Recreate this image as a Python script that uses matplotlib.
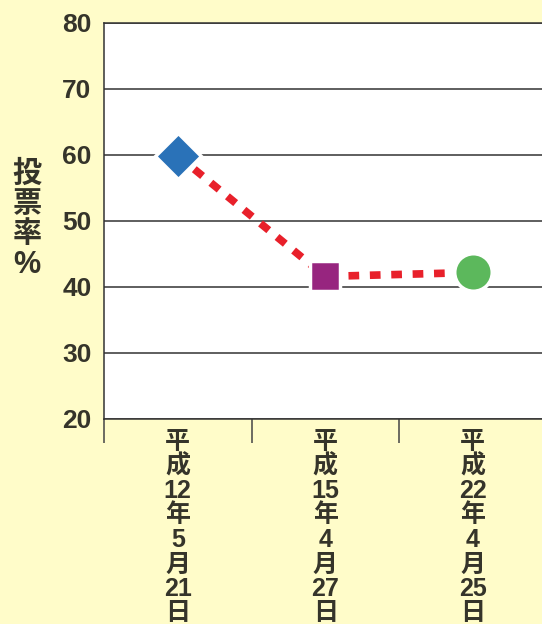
import matplotlib
matplotlib.use("Agg")
import matplotlib.pyplot as plt

# Data
categories = ["平成12年5月21日", "平成15年4月27日", "平成22年4月25日"]
label_rows = [["平", "成", "12", "年", "5", "月", "21", "日"],
              ["平", "成", "15", "年", "4", "月", "27", "日"],
              ["平", "成", "22", "年", "4", "月", "25", "日"]]
turnout = [59.9, 41.6, 42.2]
y_ticks = [20, 30, 40, 50, 60, 70, 80]
ylabel_chars = ["投", "票", "率", "%"]

FONT = ["Liberation Sans", "Noto Sans CJK JP", "DejaVu Sans"]
TXT = "#35342a"
BG = "#fffcc9"

fig = plt.figure(figsize=(5.42, 6.24), dpi=100, facecolor=BG)
ax = fig.add_axes([104/542, 205/624, 442.5/542, 396/624])
ax.set_facecolor("white")

x = [0.5, 1.5, 2.5]
ax.plot(x, turnout, color="#e8202a", lw=5.5, ls=(0, (1.4, 1.4)), zorder=3,
        solid_capstyle="butt", dash_capstyle="butt")
markers = ["D", "s", "o"]
colors = ["#2a72b8", "#97257f", "#5cb85c"]
sizes = [23, 22, 27]
for xi, yi, m, c, s in zip(x, turnout, markers, colors, sizes):
    ax.plot([xi], [yi], marker=m, color=c, ms=s, mec="white", mew=2.5,
            zorder=4, ls="none")

ax.set_xlim(0, 3)
ax.set_ylim(20, 80)
ax.set_yticks(y_ticks)
ax.set_yticklabels([str(t) for t in y_ticks], fontsize=19, fontweight="bold",
                   color=TXT, family=FONT)
ax.tick_params(axis="y", length=0, pad=9)
ax.grid(axis="y", color="#333333", lw=1.1)
ax.set_axisbelow(True)
ax.set_xticks([0, 1, 2, 3])
ax.set_xticklabels([])
ax.tick_params(axis="x", length=17, width=1.1, color="#444444", direction="out")
for sp in ["left", "bottom", "top"]:
    ax.spines[sp].set_color("#333333")
    ax.spines[sp].set_linewidth(1.1)
ax.spines["right"].set_visible(False)

# x labels stacked vertically
for xi, rows in zip(x, label_rows):
    for i, r in enumerate(rows):
        ax.annotate(r, xy=(xi, 0), xycoords=("data", "axes fraction"),
                    xytext=(0, -11 - 24.5 * i), textcoords="offset pixels",
                    ha="center", va="top", fontsize=18, fontweight="bold",
                    color=TXT, family=FONT, annotation_clip=False)

# y label stacked
for i, ch in enumerate(ylabel_chars):
    fig.text(27/542, 1 - (160 + 30 * i)/624, ch, ha="center", va="top",
             fontsize=22 if ch == "%" else 21, fontweight="bold", color=TXT,
             family=FONT)

fig.savefig("out.png", dpi=100, facecolor=BG)
